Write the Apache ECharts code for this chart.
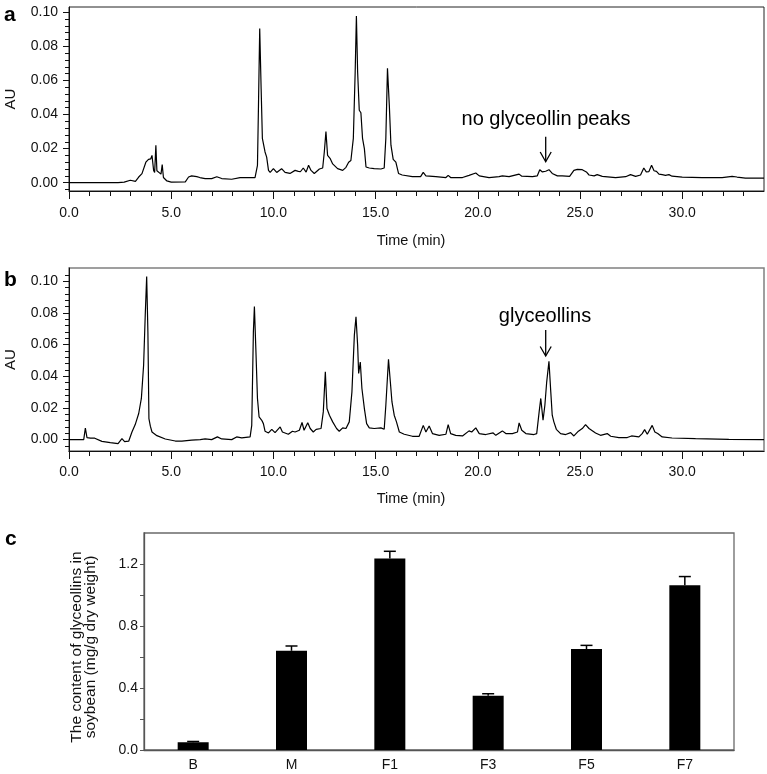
<!DOCTYPE html>
<html><head><meta charset="utf-8">
<script src="https://cdn.jsdelivr.net/npm/echarts@6/dist/echarts.min.js"></script>
<style>html,body{margin:0;padding:0;background:#fff}#c{width:767px;height:774px}</style>
</head><body><div id="c"></div>
<script>
// ---------- Panel a chromatogram (control) ----------
const timeA = [0,2.4,2.7,3.0,3.25,3.41,3.57,3.76,3.89,4.0,4.06,4.14,4.19,4.25,4.3,4.38,4.5,4.56,4.62,4.79,5.0,5.69,5.85,6.0,6.25,6.4,6.66,6.98,7.23,7.47,7.96,8.37,8.6,9.1,9.22,9.27,9.33,9.4,9.46,9.59,9.67,9.76,9.84,10.0,10.16,10.4,10.57,10.81,11.06,11.22,11.32,11.46,11.6,11.72,11.84,12.0,12.25,12.41,12.49,12.57,12.65,12.77,12.9,13.14,13.39,13.55,13.68,13.79,13.91,14.0,14.06,14.12,14.2,14.28,14.36,14.45,14.53,14.69,14.93,15.26,15.42,15.5,15.58,15.67,15.75,15.86,15.99,16.12,16.3,16.8,17.2,17.33,17.46,17.95,18.44,18.55,18.67,19.25,19.57,19.9,20.07,20.55,21.04,21.2,21.53,22.02,22.15,22.67,22.91,23.03,23.16,23.32,23.48,23.64,23.89,24.13,24.49,24.7,24.87,25.11,25.31,25.44,25.69,25.84,26.09,26.74,27.23,27.47,27.72,27.96,28.12,28.24,28.37,28.5,28.62,28.74,28.86,29.02,29.18,29.35,29.5,30.0,30.97,31.95,32.44,32.68,33.09,34.0];
const auA = [0,0,0.0003,0.0014,0.0008,0.0033,0.0053,0.012,0.0137,0.014,0.016,0.0072,0.006,0.022,0.007,0.006,0.005,0.0106,0.003,0.001,0.0003,0.0005,0.0033,0.004,0.0035,0.003,0.0024,0.0024,0.0035,0.0024,0.002,0.003,0.003,0.003,0.0102,0.0455,0.0905,0.055,0.026,0.018,0.015,0.0072,0.006,0.0082,0.006,0.0082,0.006,0.0054,0.0072,0.0066,0.0064,0.0086,0.0062,0.0102,0.0072,0.0054,0.008,0.0086,0.018,0.030,0.016,0.0143,0.011,0.0082,0.0072,0.009,0.012,0.013,0.026,0.065,0.0978,0.065,0.0425,0.041,0.026,0.020,0.0092,0.0086,0.0082,0.008,0.0086,0.026,0.0672,0.0455,0.022,0.0137,0.012,0.0054,0.0045,0.0035,0.0035,0.006,0.004,0.0035,0.003,0.0043,0.003,0.003,0.0043,0.0057,0.004,0.003,0.0035,0.004,0.0035,0.005,0.0038,0.0035,0.004,0.0076,0.0063,0.0067,0.0076,0.0054,0.004,0.004,0.0037,0.0072,0.0078,0.0076,0.0063,0.0045,0.004,0.0047,0.0037,0.003,0.0035,0.0047,0.0037,0.0045,0.0086,0.0063,0.0065,0.0102,0.007,0.0066,0.005,0.0047,0.0043,0.0047,0.0038,0.0033,0.003,0.0029,0.0037,0.0033,0.0027,0.0027];

// ---------- Panel b chromatogram (elicited) ----------
const timeB = [0,0.72,0.8,0.88,1.05,1.26,1.61,2.02,2.4,2.59,2.72,2.92,3.08,3.24,3.41,3.54,3.65,3.73,3.8,3.86,3.91,3.98,4.06,4.3,4.71,5.2,5.52,6.0,6.42,6.66,6.98,7.26,7.47,7.96,8.2,8.45,8.86,8.94,9.02,9.07,9.14,9.22,9.3,9.43,9.51,9.59,9.76,9.92,10.08,10.16,10.33,10.44,10.73,10.93,11.06,11.27,11.4,11.5,11.68,11.8,11.95,12.09,12.33,12.44,12.54,12.62,12.74,12.9,13.09,13.22,13.39,13.55,13.71,13.84,13.96,14.04,14.12,14.17,14.25,14.33,14.45,14.56,14.69,14.93,15.26,15.42,15.5,15.63,15.72,15.8,15.91,16.02,16.16,16.4,16.8,17.13,17.33,17.46,17.62,17.78,18.11,18.44,18.55,18.67,18.92,19.25,19.57,19.7,19.9,20.07,20.39,20.75,20.88,21.2,21.37,21.69,21.94,22.02,22.15,22.35,22.75,22.88,23.0,23.08,23.19,23.28,23.37,23.48,23.57,23.64,23.72,23.84,24.05,24.3,24.54,24.7,24.92,25.11,25.27,25.44,25.76,26.0,26.33,26.5,26.9,27.31,27.52,27.88,28.04,28.16,28.29,28.53,28.66,28.8,29.02,29.5,30.65,32.28,34.0];
const auB = [0,0,0.0073,0.0013,0.0009,0.0009,-0.0011,-0.0019,-0.0025,0.0006,-0.0013,-0.001,0.0048,0.0095,0.0165,0.026,0.047,0.0787,0.103,0.068,0.0133,0.0085,0.0048,0.0025,0.0004,-0.0009,-0.001,-0.0003,0,0.0004,0,0.0017,0.0004,0,0.0017,0.0011,0.0017,0.009,0.068,0.084,0.0576,0.026,0.0143,0.0122,0.0101,0.0053,0.0042,0.0065,0.0044,0.0038,0.008,0.0048,0.0034,0.0053,0.0048,0.0059,0.0108,0.0059,0.0106,0.007,0.0048,0.0065,0.007,0.0175,0.0428,0.0196,0.0154,0.0112,0.007,0.0053,0.0074,0.007,0.0112,0.030,0.066,0.0776,0.0597,0.0418,0.049,0.0323,0.0196,0.0101,0.0074,0.007,0.0074,0.0065,0.0217,0.0508,0.0365,0.0238,0.0154,0.0112,0.0048,0.0034,0.0021,0.0021,0.009,0.0048,0.0086,0.0038,0.0027,0.0034,0.0095,0.0038,0.0027,0.0023,0.0055,0.0048,0.0074,0.0038,0.0032,0.0042,0.0027,0.0055,0.0038,0.0038,0.0048,0.0105,0.0059,0.0038,0.0032,0.0038,0.0175,0.026,0.0122,0.0217,0.0365,0.0495,0.030,0.0154,0.0112,0.0065,0.0038,0.0032,0.0044,0.0023,0.0053,0.007,0.0095,0.007,0.0042,0.0027,0.0038,0.0021,0.0013,0.0013,0.0023,0.0017,0.0038,0.0063,0.0034,0.009,0.0048,0.0038,0.0017,0.001,0.0006,0.0002,0];

// ---------- Axis ticks for the chromatograms ----------
const timeMajorTicks = [0,5,10,15,20,25,30];
const timeMinorTicks = [1,2,3,4,6,7,8,9,11,12,13,14,16,17,18,19,21,22,23,24,26,27,28,29,31,32,33];
const auMajorTicks = [0,0.02,0.04,0.06,0.08,0.10];
const auMinorTicksA = [-0.004,0.004,0.008,0.012,0.016,0.024,0.028,0.032,0.036,0.044,0.048,0.052,0.056,0.064,0.068,0.072,0.076,0.084,0.088,0.092,0.096];
const auMinorTicksB = [-0.004,0.004,0.008,0.012,0.016,0.024,0.028,0.032,0.036,0.044,0.048,0.052,0.056,0.064,0.068,0.072,0.076,0.084,0.088,0.092,0.096,0.104];

// ---------- Panel c bar chart ----------
const groups = ['B','M','F1','F3','F5','F7'];
const content = [0.05,0.64,1.235,0.35,0.651,1.063];
const contentErr = [0.005,0.031,0.047,0.013,0.024,0.056];
const contentTicks = [0,0.2,0.4,0.6,0.8,1.0,1.2];
const contentLabels = [0,0.4,0.8,1.2];

const FONT = '"Liberation Sans", Arial, Helvetica, sans-serif';
const INK = '#111';

function pairs(xs, ys){ return xs.map((x,i)=>[x, ys[i]]); }

function timeAxes(gi, nameGap, labelMargin){
  return [
    {type:'value', gridIndex:gi, min:0, max:34, position:'bottom',
     axisLine:{show:true, onZero:false, lineStyle:{color:INK, width:1}},
     axisTick:{show:true, inside:false, length:8, customValues:timeMajorTicks, lineStyle:{color:INK, width:1}},
     axisLabel:{show:true, customValues:timeMajorTicks, formatter:v=>Number(v).toFixed(1), margin:labelMargin, fontSize:14, color:INK, fontFamily:FONT},
     splitLine:{show:false},
     name:'Time (min)', nameLocation:'middle', nameGap:nameGap,
     nameTextStyle:{fontSize:14.5, color:INK, fontFamily:FONT, padding:[0,11,0,0]}},
    {type:'value', gridIndex:gi, min:0, max:34, position:'bottom',
     axisLine:{show:false, onZero:false},
     axisTick:{show:true, inside:false, length:5, customValues:timeMinorTicks, lineStyle:{color:INK, width:1}},
     axisLabel:{show:false}, splitLine:{show:false}}
  ];
}
function auAxes(gi, mn, mx, minor){
  return [
    {type:'value', gridIndex:gi, min:mn, max:mx, position:'left',
     axisLine:{show:true, onZero:false, lineStyle:{color:INK, width:1}},
     axisTick:{show:true, inside:false, length:6, customValues:auMajorTicks, lineStyle:{color:INK, width:1}},
     axisLabel:{show:true, customValues:auMajorTicks, formatter:v=>Number(v).toFixed(2), margin:11, fontSize:14, color:INK, fontFamily:FONT},
     splitLine:{show:false},
     name:'AU', nameLocation:'middle', nameGap:51, nameRotate:90,
     nameTextStyle:{fontSize:15, color:INK, fontFamily:FONT}},
    {type:'value', gridIndex:gi, min:mn, max:mx, position:'left',
     axisLine:{show:false, onZero:false},
     axisTick:{show:true, inside:false, length:4, customValues:minor, lineStyle:{color:INK, width:1}},
     axisLabel:{show:false}, splitLine:{show:false}}
  ];
}

const chart = echarts.init(document.getElementById('c'), null, {renderer:'canvas'});
const option = {
  animation:false,
  backgroundColor:'#fff',
  textStyle:{fontFamily:FONT},
  grid:[
    {left:69, top:7, width:695, height:184, show:true, borderColor:'#222', borderWidth:1, containLabel:false, outerBoundsMode:'none'},
    {left:69, top:268, width:695, height:183, show:true, borderColor:'#808080', borderWidth:1.5, containLabel:false, outerBoundsMode:'none'},
    {left:144, top:533, width:590, height:217, show:true, borderColor:'#6a6a6a', borderWidth:1.3, containLabel:false, outerBoundsMode:'none'}
  ],
  xAxis:[
    ...timeAxes(0, 42, 15),
    ...timeAxes(1, 40, 14),
    {type:'category', gridIndex:2, data:groups, position:'bottom',
     axisLine:{show:true, onZero:false, lineStyle:{color:'#555', width:1.3}},
     axisTick:{show:false},
     axisLabel:{margin:8, fontSize:14, color:INK, fontFamily:FONT},
     splitLine:{show:false}}
  ],
  yAxis:[
    ...auAxes(0, -0.0049, 0.1031, auMinorTicksA),
    ...auAxes(1, -0.0072, 0.1084, auMinorTicksB),
    {type:'value', gridIndex:2, min:0, max:1.4, position:'left',
     axisLine:{show:true, lineStyle:{color:'#555', width:1.3}},
     axisTick:{show:true, inside:false, length:4, customValues:contentTicks, lineStyle:{color:'#555', width:1}},
     axisLabel:{customValues:contentLabels, formatter:v=>Number(v).toFixed(1), margin:6, fontSize:14, color:INK, fontFamily:FONT},
     splitLine:{show:false},
     name:'The content of glyceollins in\nsoybean (mg/g dry weight)', nameLocation:'middle', nameGap:46, nameRotate:90,
     nameTextStyle:{fontSize:15.5, lineHeight:14, color:INK, fontFamily:FONT, padding:[0,11,0,0]}}
  ],
  series:[
    {type:'line', xAxisIndex:0, yAxisIndex:0, data:pairs(timeA, auA), showSymbol:false, symbol:'none',
     lineStyle:{color:'#000', width:1.2}, silent:true},
    {type:'line', xAxisIndex:2, yAxisIndex:2, data:pairs(timeB, auB), showSymbol:false, symbol:'none',
     lineStyle:{color:'#000', width:1.2}, silent:true},
    {type:'bar', xAxisIndex:4, yAxisIndex:4, data:content, barWidth:31,
     itemStyle:{color:'#000'}, silent:true},
    {type:'custom', xAxisIndex:4, yAxisIndex:4, silent:true,
     encode:{x:0, y:[1,2]},
     data:groups.map((g,i)=>[i, content[i], content[i]+contentErr[i]]),
     renderItem:function(params, api){
       const x = api.value(0);
       const p0 = api.coord([x, api.value(1)]);
       const p1 = api.coord([x, api.value(2)]);
       const hw = 6;
       return {type:'group', children:[
         {type:'line', shape:{x1:p0[0], y1:p0[1], x2:p1[0], y2:p1[1]}, style:{stroke:'#000', lineWidth:1.5}},
         {type:'line', shape:{x1:p1[0]-hw, y1:p1[1], x2:p1[0]+hw, y2:p1[1]}, style:{stroke:'#000', lineWidth:1.5}}
       ]};
     }}
  ],
  graphic:[
    {type:'text', x:4, y:15, style:{text:'a', font:'bold 21px '+FONT, fill:'#000', verticalAlign:'middle'}},
    {type:'text', x:4, y:280, style:{text:'b', font:'bold 21px '+FONT, fill:'#000', verticalAlign:'middle'}},
    {type:'text', x:5, y:539, style:{text:'c', font:'bold 21px '+FONT, fill:'#000', verticalAlign:'middle'}},
    {type:'text', x:546, y:119.5, style:{text:'no glyceollin peaks', font:'20px '+FONT, fill:'#000', align:'center', verticalAlign:'middle'}},
    {type:'polyline', shape:{points:[[545.7,136.7],[545.7,161.2]]}, style:{stroke:'#000', lineWidth:1.3, fill:null}},
    {type:'polyline', shape:{points:[[540.2,152],[545.7,161.7],[551.2,152]]}, style:{stroke:'#000', lineWidth:1.3, fill:null}},
    {type:'text', x:545, y:316.5, style:{text:'glyceollins', font:'20px '+FONT, fill:'#000', align:'center', verticalAlign:'middle'}},
    {type:'polyline', shape:{points:[[545.7,330],[545.7,355.5]]}, style:{stroke:'#000', lineWidth:1.3, fill:null}},
    {type:'polyline', shape:{points:[[540.2,346.5],[545.7,356],[551.2,346.5]]}, style:{stroke:'#000', lineWidth:1.3, fill:null}}
  ]
};
chart.setOption(option);
</script>
</body></html>
